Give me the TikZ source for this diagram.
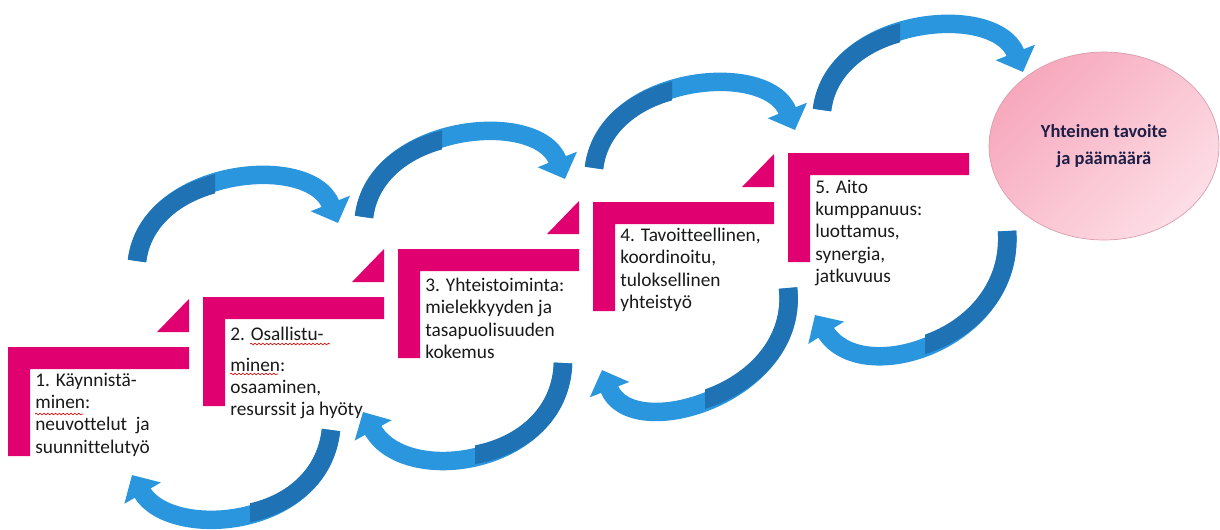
\documentclass[tikz,border=0pt]{standalone}
\usepackage{fontspec}
\setmainfont{Carlito}[Ligatures=NoCommon]
\usetikzlibrary{arrows.meta,shapes.geometric,decorations.pathmorphing}
\definecolor{stepmagenta}{RGB}{224,0,112}
\definecolor{arrowdark}{RGB}{31,114,180}
\definecolor{arrowlight}{RGB}{41,150,221}
\definecolor{goalpink}{RGB}{247,168,189}
\definecolor{goalpale}{RGB}{253,222,230}
\definecolor{goalink}{RGB}{30,30,70}
\tikzset{
  stepbar/.style={fill=stepmagenta},
  steptext/.style={anchor=north west,inner sep=0pt,align=left,font=\fontsize{11}{12.6}\selectfont,text=black!90},
  bluearrow/.style={arrowlight,line width=0.37cm,-{Triangle[width=0.82cm,length=0.42cm]}},
  bluetail/.style={arrowdark,line width=0.37cm},
  spell/.style={red!85!black,line width=0.35pt,decorate,decoration={snake,amplitude=0.5pt,segment length=2.2pt}}
}
% curved block arrow: start, two controls, tip, clip region of the dark tail
\newcommand\bluecurve[5]{%
  \draw[bluearrow] #1 .. controls #2 and #3 .. #4;
  \begin{scope}
    \clip #5;
    \draw[bluetail] #1 .. controls #2 and #3 .. #4;
  \end{scope}}
\begin{document}
\begin{tikzpicture}[x=0.02cm,y=-0.02cm,line join=round]
  \useasboundingbox (0,0) rectangle (1220,529);
  % steps
  \foreach \sx/\sy in {8/347,203/297,398/249,593/202,788/153}
    \fill[stepbar] (\sx,\sy) -- ++(181,0) -- ++(0,22) -- ++(-159,0) -- ++(0,87) -- ++(-22,0) -- cycle;
  \foreach \sx/\sy in {8/347,203/297,398/249,593/202}
    \fill[stepbar] (\sx+149,\sy-15) -- (\sx+181,\sy-15) -- (\sx+181,\sy-48) -- cycle;
  \node[steptext] (step1) at (35,373) {1. Käynnistä-\\minen:\\neuvottelut\ \ ja\\suunnittelutyö};
  \node[steptext] (step2) at (230,327) {2. Osallistu-\\[5pt]minen:\\osaaminen,\\resurssit ja hyöty};
  \node[steptext] (step3) at (425,278) {3. Yhteistoiminta:\\mielekkyyden ja\\tasapuolisuuden\\kokemus};
  \node[steptext] (step4) at (620,228) {4. Tavoitteellinen,\\koordinoitu,\\tuloksellinen\\yhteistyö};
  \node[steptext] (step5) at (815,180) {5. Aito\\kumppanuus:\\luottamus,\\synergia,\\jatkuvuus};
  \draw[spell] (35,414) -- (83,414);
  \draw[spell] (250,344) -- (330,344);
  \draw[spell] (230,374) -- (278,374);
  % upper arrows
  \foreach \dx/\dy in {0/0,227/-44,457/-93,685/-151}{
    \begin{scope}[shift={(\dx,\dy)}]
      \bluecurve{(137,261)}{(148,168)}{(310,152)}{(338,223)}{(100,275) rectangle (215,120)}
    \end{scope}
  }
  % lower arrows
  \bluecurve{(331,430)}{(320,530)}{(170,540)}{(132,475)}{(250,410) rectangle (370,540)}
  \bluecurve{(563,363)}{(560,465)}{(405,488)}{(363,412)}{(475,345) rectangle (600,480)}
  \bluecurve{(788,288)}{(800,395)}{(631,445)}{(602,370)}{(705,270) rectangle (830,430)}
  \bluecurve{(1007,231)}{(1015,340)}{(862,390)}{(815,315)}{(925,215) rectangle (1050,370)}
  % goal
  \node[ellipse,minimum width=4.6cm,minimum height=3.76cm,draw=goalpink!75!gray,
    top color=goalpink,bottom color=goalpale,shading angle=45,
    font=\bfseries\fontsize{10.5}{15}\selectfont,text=goalink,align=center] (goal) at (1104,146) {Yhteinen tavoite\\ja päämäärä};
\end{tikzpicture}
\end{document}
